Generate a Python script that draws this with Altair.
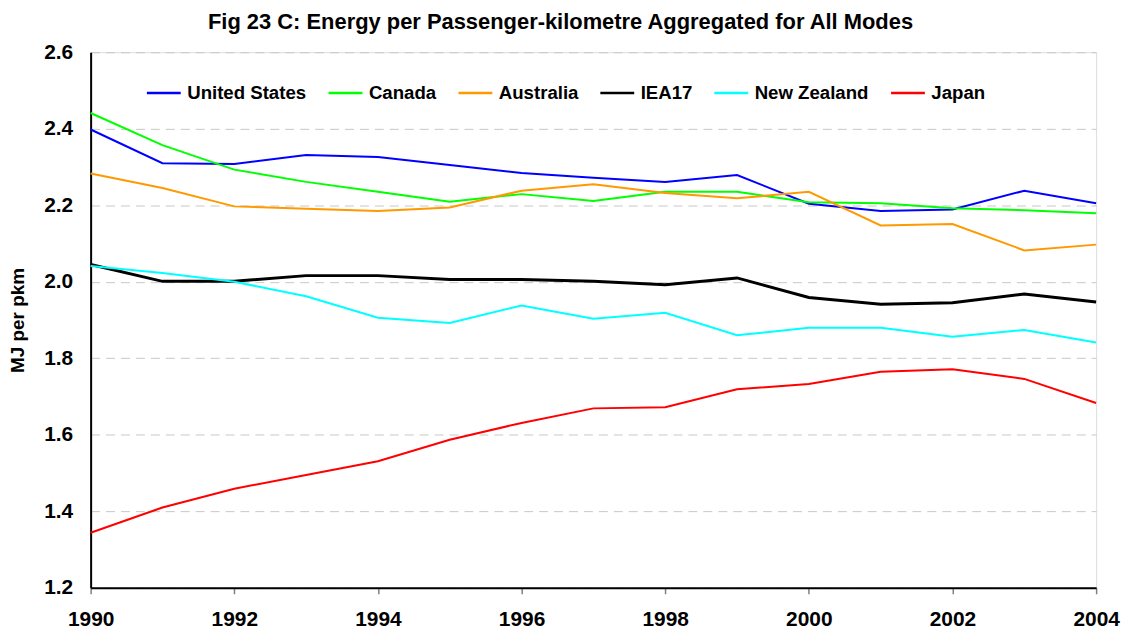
import altair as alt
import pandas as pd

years = list(range(1990, 2005))
series_names = ["United States", "Canada", "Australia", "IEA17", "New Zealand", "Japan"]
series_colors = ["#0000FF", "#00FF00", "#FF9900", "#000000", "#00FFFF", "#FF0000"]

united_states = [2.398, 2.310, 2.308, 2.331, 2.326, 2.305, 2.284, 2.272, 2.261, 2.279, 2.204, 2.185, 2.189, 2.238, 2.205]
canada = [2.441, 2.357, 2.293, 2.261, 2.235, 2.209, 2.229, 2.211, 2.235, 2.235, 2.208, 2.205, 2.192, 2.187, 2.179]
australia = [2.283, 2.245, 2.197, 2.191, 2.185, 2.194, 2.238, 2.255, 2.232, 2.218, 2.235, 2.147, 2.151, 2.082, 2.097]
iea17 = [2.045, 2.001, 2.001, 2.016, 2.016, 2.006, 2.006, 2.001, 1.992, 2.010, 1.959, 1.941, 1.945, 1.968, 1.947]
new_zealand = [2.041, 2.023, 2.000, 1.962, 1.906, 1.892, 1.938, 1.903, 1.919, 1.860, 1.880, 1.880, 1.856, 1.874, 1.841]
japan = [1.344, 1.410, 1.459, 1.495, 1.531, 1.587, 1.631, 1.669, 1.672, 1.719, 1.733, 1.765, 1.771, 1.746, 1.683]

x_ticks = list(range(1990, 2005, 2))
y_ticks = [1.2, 1.4, 1.6, 1.8, 2.0, 2.2, 2.4, 2.6]

all_series = [united_states, canada, australia, iea17, new_zealand, japan]
rows = []
for name, vals in zip(series_names, all_series):
    for yr, v in zip(years, vals):
        rows.append({"Year": yr, "Series": name, "Value": v,
                     "Width": 3.0 if name == "IEA17" else 2.0})
df = pd.DataFrame(rows)

FONT = "Liberation Sans"

chart = alt.Chart(df).mark_line().encode(
    x=alt.X("Year:Q",
            scale=alt.Scale(domain=[1990, 2004], nice=False, zero=False),
            axis=alt.Axis(values=x_ticks, format="d", title=None, grid=False,
                          labelFlush=False, labelFontSize=21, labelFontWeight="bold",
                          labelFont=FONT, labelColor="black", labelPadding=15,
                          tickColor="#808080", tickSize=6, tickWidth=1.5,
                          domainColor="black", domainWidth=2)),
    y=alt.Y("Value:Q",
            scale=alt.Scale(domain=[1.2, 2.6], nice=False, zero=False),
            axis=alt.Axis(values=y_ticks, format=".1f", title="MJ per pkm",
                          grid=True, gridColor="#c8c8c8", gridDash=[9, 6], gridWidth=1,
                          ticks=False, labelFontSize=21, labelFontWeight="bold",
                          labelFont=FONT, labelColor="black", labelPadding=18,
                          titleFont=FONT, titleFontSize=19, titleFontWeight="bold",
                          titleColor="black", titlePadding=16,
                          domainColor="black", domainWidth=2)),
    color=alt.Color("Series:N",
                    scale=alt.Scale(domain=series_names, range=series_colors),
                    sort=series_names,
                    legend=alt.Legend(orient="none", legendX=55, legendY=22,
                                      direction="horizontal", title=None,
                                      symbolType="stroke", symbolSize=1156,
                                      symbolStrokeWidth=2.5, labelOffset=5,
                                      columnPadding=16.5, padding=0,
                                      labelFont=FONT, labelFontSize=18.7,
                                      labelFontWeight="bold", labelColor="black")),
    strokeWidth=alt.StrokeWidth("Width:Q", scale=None, legend=None),
    detail="Series:N",
).properties(
    width=1010,
    height=538,
    title=alt.TitleParams("Fig 23 C: Energy per Passenger-kilometre Aggregated for All Modes",
                          font=FONT, fontSize=22, fontWeight="bold", color="black",
                          anchor="middle", dx=-33, offset=7),
    autosize=alt.AutoSizeParams(type="none"),
    padding={"left": 83, "top": 43, "right": 28, "bottom": 42},
).configure_view(
    stroke="black", strokeWidth=1
).configure(background="white")

chart.save("out.html", embed_options={"renderer": "svg", "actions": False})
